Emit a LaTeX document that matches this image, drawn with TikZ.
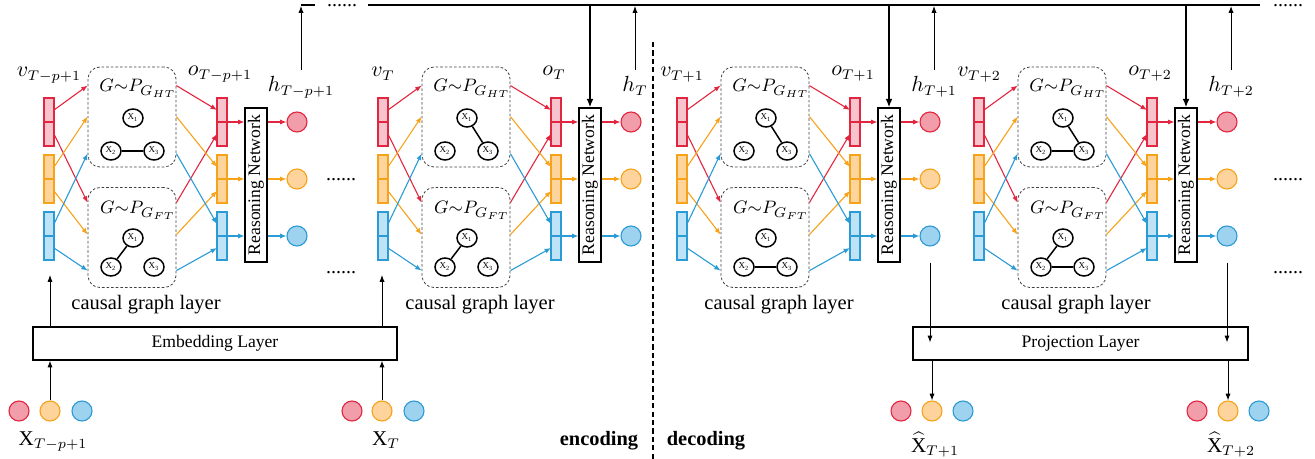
\documentclass[tikz,border=0pt]{standalone}
\usepackage{fontspec}
\usepackage{graphicx}
\setmainfont{Liberation Serif}
\usetikzlibrary{arrows.meta,calc,shapes.geometric}
\definecolor{cred}{HTML}{E3263F}
\definecolor{credfill}{HTML}{F7C3CC}
\definecolor{credc}{HTML}{F19DAA}
\definecolor{corg}{HTML}{F7A21B}
\definecolor{corgfill}{HTML}{FDD49B}
\definecolor{corgc}{HTML}{FED49C}
\definecolor{cblue}{HTML}{2B9BD6}
\definecolor{cbluefill}{HTML}{BEE3F6}
\definecolor{cbluec}{HTML}{9DD3EF}
\tikzset{
  conn/.style={line width=0.55pt,-{Latex[length=3.2pt,width=2.6pt]}},
  thinarrow/.style={line width=0.5pt,-{Latex[length=3.4pt,width=2.6pt]}},
  thickarrow/.style={line width=1.1pt,-{Latex[length=4.2pt,width=3.4pt]}},
  thickline/.style={line width=1pt},
  halfbar/.style={draw=#1, fill=#1fill, line width=0.55pt, minimum width=5pt, minimum height=12pt, inner sep=0pt, outer sep=0pt},
  hcirc/.style={circle, draw=#1, fill=#1c, line width=0.55pt, minimum size=10pt, inner sep=0pt},
  gbox/.style={draw=black!75, dash pattern=on 1.3pt off 1pt, rounded corners=6pt, line width=0.4pt, minimum width=44pt, minimum height=50pt, inner sep=0pt},
  gnode/.style={ellipse, draw, line width=0.75pt, minimum width=10pt, minimum height=9pt, inner sep=0pt, font=\fontsize{4.5}{5}\selectfont},
  gedge/.style={line width=0.75pt},
  rnbox/.style={draw, line width=0.6pt, minimum width=11pt, minimum height=77pt, inner sep=0pt, font=\fontsize{8.8}{10}\selectfont},
  layerbox/.style={draw, line width=0.6pt, minimum height=16.5pt, inner sep=0pt, font=\fontsize{8.8}{10}\selectfont},
  mlabel/.style={anchor=base, inner sep=0pt, font=\fontsize{10.5}{12}\selectfont},
  glabel/.style={anchor=base, inner sep=0pt, font=\fontsize{9.5}{11}\selectfont},
  cgl/.style={anchor=base, inner sep=0pt, font=\fontsize{10.25}{12}\selectfont},
  dotstext/.style={anchor=base, inner sep=0pt, font=\fontsize{10}{12}\selectfont},
  boldtext/.style={anchor=base, inner sep=0pt, font=\fontsize{10.2}{12}\selectfont\bfseries},
  vdash/.style={line width=0.6pt, dash pattern=on 2.6pt off 1.6pt}
}
% #1 id, #2 x offset, #3 subscript, #4 upper edges, #5 lower edges
\newcommand\cgblock[5]{%
\begin{scope}[shift={(#2,0)}]
  \node[halfbar=cred]  (#1vr1) at (49,110) {};
  \node[halfbar=cred]  (#1vr2) at (49,134) {};
  \node[halfbar=corg]  (#1vo1) at (49,167) {};
  \node[halfbar=corg]  (#1vo2) at (49,191) {};
  \node[halfbar=cblue] (#1vb1) at (49,224) {};
  \node[halfbar=cblue] (#1vb2) at (49,248) {};
  \node[halfbar=cred]  (#1or1) at (222,110) {};
  \node[halfbar=cred]  (#1or2) at (222,134) {};
  \node[halfbar=corg]  (#1oo1) at (222,167) {};
  \node[halfbar=corg]  (#1oo2) at (222,191) {};
  \node[halfbar=cblue] (#1ob1) at (222,224) {};
  \node[halfbar=cblue] (#1ob2) at (222,248) {};
  \node[gbox] (#1ub) at (132,117) {};
  \node[gbox] (#1lb) at (132,237.5) {};
  \node[glabel] (#1ut) at (138,92) {$G{\sim}P_{G_{HT}}$};
  \node[glabel] (#1lt) at (138,214) {$G{\sim}P_{G_{FT}}$};
  \node[gnode] (#1u1) at (133,118) {X\textsubscript{1}};
  \node[gnode] (#1u2) at (111,151) {X\textsubscript{2}};
  \node[gnode] (#1u3) at (154,151) {X\textsubscript{3}};
  \node[gnode] (#1l1) at (133,238) {X\textsubscript{1}};
  \node[gnode] (#1l2) at (111,267) {X\textsubscript{2}};
  \node[gnode] (#1l3) at (154,267) {X\textsubscript{3}};
  \foreach \a/\b in {#4} {\draw[gedge] (#1u\a) -- (#1u\b);}
  \foreach \a/\b in {#5} {\draw[gedge] (#1l\a) -- (#1l\b);}
  \node[rnbox] (#1rn) at (256,185) {\rotatebox{90}{Reasoning Network}};
  \node[hcirc=cred]  (#1hr) at (297,122) {};
  \node[hcirc=corg]  (#1ho) at (297,179) {};
  \node[hcirc=cblue] (#1hb) at (297,236) {};
  \node[mlabel] (#1vl) at (49,77) {$v_{#3}$};
  \node[mlabel] (#1ol) at (220,76) {$o_{#3}$};
  \node[mlabel] (#1hl) at (301,92) {$h_{#3}$};
  \node[cgl] (#1cg) at (146,310) {causal graph layer};
  % v bars -> boxes
  \draw[conn,cred]  (#1vr1.east) -- ([yshift=-9.5pt]#1ub.north west);
  \draw[conn,cred]  (#1vr2.east) -- ([yshift=-7.75pt]#1lb.north west);
  \draw[conn,corg]  (#1vo1.east) -- ([yshift=-25pt]#1ub.north west);
  \draw[conn,corg]  (#1vo2.east) -- ([yshift=-23.75pt]#1lb.north west);
  \draw[conn,cblue] (#1vb1.east) -- ([yshift=-43.5pt]#1ub.north west);
  \draw[conn,cblue] (#1vb2.east) -- ([yshift=-41.75pt]#1lb.north west);
  % boxes -> o bars
  \draw[conn,cred]  ([yshift=-9.5pt]#1ub.north east) -- (#1or1.west);
  \draw[conn,cred]  ([yshift=-7.75pt]#1lb.north east) -- (#1or2.west);
  \draw[conn,corg]  ([yshift=-25pt]#1ub.north east) -- (#1oo1.west);
  \draw[conn,corg]  ([yshift=-23.75pt]#1lb.north east) -- (#1oo2.west);
  \draw[conn,cblue] ([yshift=-43.5pt]#1ub.north east) -- (#1ob1.west);
  \draw[conn,cblue] ([yshift=-41.75pt]#1lb.north east) -- (#1ob2.west);
  % o bars -> reasoning network -> h
  \draw[conn,cred]  (#1or1.south east) -- (#1or1.south east -| #1rn.west);
  \draw[conn,corg]  (#1oo1.south east) -- (#1oo1.south east -| #1rn.west);
  \draw[conn,cblue] (#1ob1.south east) -- (#1ob1.south east -| #1rn.west);
  \draw[conn,cred]  (#1hr.west -| #1rn.east) -- (#1hr.west);
  \draw[conn,corg]  (#1ho.west -| #1rn.east) -- (#1ho.west);
  \draw[conn,cblue] (#1hb.west -| #1rn.east) -- (#1hb.west);
  % h label -> up
  \draw[thinarrow] ([yshift=3pt]#1hl.north) -- (#1hl.north |- toprow);
\end{scope}}
\begin{document}
\begin{tikzpicture}[x=0.5pt,y=-0.5pt]
\useasboundingbox (0,0) rectangle (1315,459);
\coordinate (toprow) at (0,6);
\coordinate (topL) at (368,5);
\coordinate (topR) at (1260,5);
\coordinate (topA) at (315,5);

\cgblock{A}{0}{T-p+1}{2/3}{1/2}
\cgblock{B}{334}{T}{1/3}{1/2}
\cgblock{C}{633}{T+1}{1/3}{2/3}
\cgblock{D}{930}{T+2}{1/3,2/3}{1/2,2/3}

% top line
\draw[thickline] (topL) -- (topR);
\draw[thickline] (Ahl.north |- topA) -- (topA);
\node[dotstext] (dTL) at (342,7) {......};
\node[dotstext] (dTR) at (1288,7) {......};
\draw[thickarrow] (Brn.north |- topL) -- (Brn.north);
\draw[thickarrow] (Crn.north |- topL) -- (Crn.north);
\draw[thickarrow] (Drn.north |- topL) -- (Drn.north);

% side dots
\node[dotstext] (dA1) at (341,181) {......};
\node[dotstext] (dA2) at (341,274) {......};
\node[dotstext] (dD1) at (1288,181) {......};
\node[dotstext] (dD2) at (1288,274) {......};

% divider
\coordinate (divT) at (653,42);
\coordinate (divB) at (653,459);
\draw[vdash] (divT) -- (divB);
\node[boldtext] (enc) at (599,445) {encoding};
\node[boldtext] (dec) at (706,445) {decoding};

% embedding
\node[layerbox, minimum width=182pt] (emb) at (215,343.5) {Embedding Layer};
\node[hcirc=cred]  (X1r) at (19,411) {};
\node[hcirc=corg]  (X1o) at (50,411) {};
\node[hcirc=cblue] (X1b) at (82,411) {};
\node[hcirc=cred]  (X2r) at (352,411) {};
\node[hcirc=corg]  (X2o) at (382,411) {};
\node[hcirc=cblue] (X2b) at (414,411) {};
\node[anchor=base, inner sep=0pt, font=\fontsize{10.5}{12}\selectfont] (X1l) at (53,445) {X$_{T-p+1}$};
\node[anchor=base, inner sep=0pt, font=\fontsize{10.5}{12}\selectfont] (X2l) at (386,445) {X$_{T}$};
\draw[thinarrow] (X1o.north) -- (X1o.north |- emb.south);
\draw[thinarrow] (X2o.north) -- (X2o.north |- emb.south);
\draw[thinarrow] (X1o.north |- emb.north) -- ([yshift=-7.5pt]X1o.north |- Avb2.south);
\draw[thinarrow] (X2o.north |- emb.north) -- ([yshift=-7.5pt]X2o.north |- Bvb2.south);

% projection
\node[layerbox, minimum width=167.5pt] (proj) at (1080.5,343.5) {Projection Layer};
\node[hcirc=cred]  (Y1r) at (901,411) {};
\node[hcirc=corg]  (Y1o) at (932,411) {};
\node[hcirc=cblue] (Y1b) at (963,411) {};
\node[hcirc=cred]  (Y2r) at (1197,411) {};
\node[hcirc=corg]  (Y2o) at (1228,411) {};
\node[hcirc=cblue] (Y2b) at (1259,411) {};
\node[anchor=base, inner sep=0pt, font=\fontsize{10.5}{12}\selectfont] (Y1l) at (935,452) {$\widehat{\mbox{X}}_{T+1}$};
\node[anchor=base, inner sep=0pt, font=\fontsize{10.5}{12}\selectfont] (Y2l) at (1231,452) {$\widehat{\mbox{X}}_{T+2}$};
\draw[thinarrow] ([yshift=-8pt]Chb.south) -- ([yshift=-8pt]Chb.south |- proj.north);
\draw[thinarrow] ([yshift=-8pt]Dhb.south) -- ([yshift=-8pt]Dhb.south |- proj.north);
\draw[thinarrow] (Y1o.north |- proj.south) -- (Y1o.north);
\draw[thinarrow] (Y2o.north |- proj.south) -- (Y2o.north);
\end{tikzpicture}
\end{document}
